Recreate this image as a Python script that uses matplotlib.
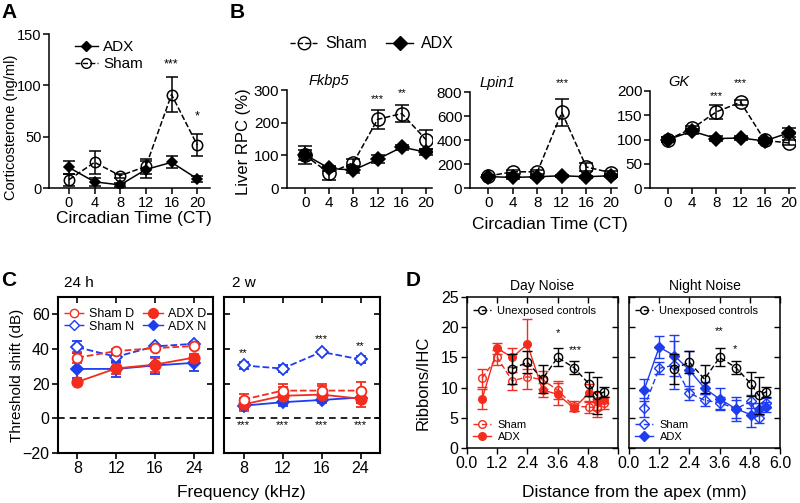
import matplotlib.pyplot as plt
from matplotlib.lines import Line2D

plt.rcParams['font.family'] = ['Liberation Sans', 'DejaVu Sans']

W, H = 800, 503
RED = '#f42c1e'
BLUE = '#1e3cf0'

# ---------------- A: plasma corticosterone ----------------
ct = [0, 4, 8, 12, 16, 20]
cort_adx = [20, 6, 3, 18, 25, 9]
cort_adx_err = [6, 4, 2, 8, 6, 3]
cort_sham = [8, 25, 12, 21, 91, 42]
cort_sham_err = [6, 11, 2, 7, 17, 11]

# ---------------- B: liver genes (RPC %) ----------------
fkbp5_sham = [100, 45, 78, 210, 228, 148]
fkbp5_sham_err = [15, 20, 10, 30, 25, 30]
fkbp5_adx = [102, 60, 55, 88, 125, 110]
fkbp5_adx_err = [28, 8, 8, 12, 8, 10]
lpin1_sham = [100, 135, 135, 630, 175, 128]
lpin1_sham_err = [10, 15, 15, 115, 30, 15]
lpin1_adx = [95, 88, 94, 102, 94, 102]
lpin1_adx_err = [10, 10, 8, 8, 8, 10]
gk_sham = [100, 123, 157, 177, 98, 93]
gk_sham_err = [5, 5, 14, 5, 5, 5]
gk_adx = [100, 117, 102, 103, 97, 114]
gk_adx_err = [5, 5, 5, 5, 5, 9]

# ---------------- C: threshold shift ----------------
freq_labels = ['8', '12', '16', '24']
c24_sham_d = [35, 38.8, 40.5, 41.7]
c24_sham_d_err = [3, 1.2, 1.2, 1.2]
c24_sham_n = [41, 35.5, 41.5, 43]
c24_sham_n_err = [3.5, 3, 1, 1]
c24_adx_d = [21, 28.8, 31, 35]
c24_adx_d_err = [1, 3, 4, 2]
c24_adx_n = [28.5, 28.5, 30.5, 32]
c24_adx_n_err = [5.5, 4.5, 5, 4.5]
c2w_sham_d = [10.8, 16, 16, 16]
c2w_sham_d_err = [3, 4, 4, 5]
c2w_sham_n = [30.5, 28.7, 38.3, 34]
c2w_sham_n_err = [2, 2, 1, 2]
c2w_adx_d = [8, 13, 13.7, 11.3]
c2w_adx_d_err = [4, 5, 5, 5]
c2w_adx_n = [7.3, 9.3, 10.6, 12]
c2w_adx_n_err = [2, 2, 2, 3]

# ---------------- D: ribbons per IHC ----------------
dist = [0.6, 1.2, 1.8, 2.4, 3.0, 3.6, 4.25, 4.85, 5.15, 5.45]
ctrl_dist = [1.8, 2.4, 3.0, 3.6, 4.25, 4.85, 5.15, 5.45]
ctrl = [13.1, 14.2, 11.4, 15.0, 13.3, 10.6, 8.7, 9.3]
ctrl_err = [2.5, 1.8, 2.3, 1.5, 1.1, 2.0, 3.0, 0.8]
day_sham = [11.6, 15.0, 11.1, 11.8, 11.3, 9.6, 6.9, 6.8, 6.6, 7.5]
day_sham_err = [1.5, 1.2, 1.5, 2.0, 1.5, 1.5, 0.8, 1.0, 1.5, 1.0]
day_adx = [8.1, 16.5, 15.0, 17.2, 9.6, 8.9, 6.6, 9.1, 7.8, 7.9]
day_adx_err = [1.6, 0.9, 1.6, 4.2, 1.2, 1.8, 0.5, 1.5, 1.5, 0.5]
night_sham = [6.7, 13.2, 13.7, 9.1, 7.9, 7.5, 6.5, 7.7, 4.9, 7.5]
night_sham_err = [1.6, 1.0, 4.0, 1.2, 1.0, 1.0, 1.5, 1.0, 0.8, 0.8]
night_adx = [9.6, 16.7, 15.3, 12.9, 9.9, 8.1, 6.5, 5.5, 6.4, 6.8]
night_adx_err = [1.8, 1.8, 3.4, 3.2, 1.0, 1.8, 2.0, 2.0, 1.0, 0.8]


def px_box(l, t, r, b):
    # pixel box (left, top, right, bottom) -> figure fraction rect
    return [l / W, 1 - b / H, (r - l) / W, (b - t) / H]


def ftext(x, y, s, **kw):
    fig.text(x / W, 1 - y / H, s, **kw)


def eb(ax, x, y, e, color, marker, ms, ls, mfc, cap, lw=1.0, z=2):
    ax.errorbar(x, y, yerr=e, color=color, marker=marker, ms=ms, ls=ls,
                mfc=mfc, mec=color, mew=lw, capsize=cap, elinewidth=lw,
                capthick=lw, lw=lw, zorder=z)


def prism(ax, labelsize=9.5):
    ax.spines[['top', 'right']].set_visible(False)
    for s in ax.spines.values():
        s.set_linewidth(1.1)
    ax.tick_params(direction='out', length=4, width=1.1, labelsize=labelsize, pad=1.5)


def proxy(color, marker, ls, mfc, ms, lw=1.0):
    return Line2D([], [], color=color, marker=marker, ls=ls, mfc=mfc,
                  mec=color, ms=ms, lw=lw)


def inward_second_ticks(ax):
    # top ticks point down, right ticks point left (into the box)
    for tk in ax.xaxis.get_major_ticks():
        tk.tick2line.set_marker(3)
    for tk in ax.yaxis.get_major_ticks():
        tk.tick2line.set_marker(0)


fig = plt.figure(figsize=(8, 5.03), dpi=100)

# ================= A =================
axA = fig.add_axes(px_box(49, 34, 210, 188))
eb(axA, ct, cort_sham, cort_sham_err, 'k', 'o', 7.5, '--', 'none', 4.5, 1.1)
eb(axA, ct, cort_adx, cort_adx_err, 'k', 'D', 5.5, '-', 'k', 4.5, 1.1, z=3)
axA.set_xlim(-3.1, 22)
axA.set_ylim(0, 150)
axA.set_xticks(ct)
axA.set_yticks([0, 50, 100, 150])
prism(axA, 10.5)
axA.text(16, 120, '***', ha='center', va='center', fontsize=9)
axA.text(20, 70, '*', ha='center', va='center', fontsize=9)
axA.legend([proxy('k', 'D', '-', 'k', 5.5), proxy('k', 'o', '--', 'none', 7)],
           ['ADX', 'Sham'], loc='upper left', bbox_to_anchor=(0.16, 0.96),
           frameon=False, fontsize=11, handlelength=1.5, handletextpad=0.35,
           labelspacing=0.2, borderpad=0, borderaxespad=0)
ftext(11, 127, 'Corticosterone (ng/ml)', rotation=90, ha='center', va='center', fontsize=10.5)
ftext(134, 219, 'Circadian Time (CT)', ha='center', va='center', fontsize=12.5)
ftext(9, 12, 'A', ha='center', va='center', fontsize=15, fontweight='bold')

# ================= B =================
b_boxes = [(287, 90, 432), (470, 92, 617), (650, 91, 795)]
b_sham = [fkbp5_sham, lpin1_sham, gk_sham]
b_sham_err = [fkbp5_sham_err, lpin1_sham_err, gk_sham_err]
b_adx = [fkbp5_adx, lpin1_adx, gk_adx]
b_adx_err = [fkbp5_adx_err, lpin1_adx_err, gk_adx_err]
b_titles = ['Fkbp5', 'Lpin1', 'GK']
b_title_x = [0.5, -1.5, 0]
b_ylim = [300, 800, 200]
b_yticks = [[0, 100, 200, 300], [0, 200, 400, 600, 800], [0, 50, 100, 150, 200]]
b_stars = [[(12, 272, '***'), (16, 291, '**')],
           [(12, 875, '***')],
           [(8, 190, '***'), (12, 217, '***')]]
for i in range(3):
    l, t, r = b_boxes[i]
    ax = fig.add_axes(px_box(l, t, r, 188))
    eb(ax, ct, b_sham[i], b_sham_err[i], 'k', 'o', 9.5, '--', 'none', 5, 1.1)
    eb(ax, ct, b_adx[i], b_adx_err[i], 'k', 'D', 7, '-', 'k', 5, 1.1, z=3)
    ax.set_xlim(-3, 21)
    ax.set_ylim(0, b_ylim[i])
    ax.set_xticks(ct)
    ax.set_yticks(b_yticks[i])
    prism(ax, 11)
    ax.text(b_title_x[i], b_ylim[i] * 1.09, b_titles[i], ha='left', va='center',
            fontsize=10.5, style='italic')
    for sx, sy, s in b_stars[i]:
        ax.text(sx, sy, s, ha='center', va='center', fontsize=8)
fig.legend([proxy('k', 'o', '--', 'none', 9), proxy('k', 'D', '-', 'k', 7)],
           ['Sham', 'ADX'], loc='center left', bbox_to_anchor=(290 / W, 1 - 44 / H),
           ncol=2, frameon=False, fontsize=11.5, handlelength=1.7, handletextpad=0.5,
           columnspacing=1.2, borderpad=0, borderaxespad=0)
ftext(243, 142, 'Liver RPC (%)', rotation=90, ha='center', va='center', fontsize=12)
ftext(550, 224, 'Circadian Time (CT)', ha='center', va='center', fontsize=12.5)
ftext(237, 12, 'B', ha='center', va='center', fontsize=15, fontweight='bold')

# ================= C =================
fx = range(len(freq_labels))
c_sets = [
    (c24_sham_d, c24_sham_d_err, c24_sham_n, c24_sham_n_err,
     c24_adx_d, c24_adx_d_err, c24_adx_n, c24_adx_n_err),
    (c2w_sham_d, c2w_sham_d_err, c2w_sham_n, c2w_sham_n_err,
     c2w_adx_d, c2w_adx_d_err, c2w_adx_n, c2w_adx_n_err),
]
c_boxes = [(58, 213), (224, 380)]
c_titles = ['24 h', '2 w']
for i in range(2):
    l, r = c_boxes[i]
    ax = fig.add_axes(px_box(l, 297, r, 453))
    sd, sde, sn, sne, ad, ade, an, ane = c_sets[i]
    ax.axhline(0, color='k', ls=(0, (4, 3)), lw=1.2, zorder=1)
    eb(ax, fx, an, ane, BLUE, 'D', 6, '-', BLUE, 3.5, 1.3)
    eb(ax, fx, ad, ade, RED, 'o', 7.5, '-', RED, 3.5, 1.3)
    eb(ax, fx, sn, sne, BLUE, 'D', 6, '--', 'white', 3.5, 1.3, z=3)
    eb(ax, fx, sd, sde, RED, 'o', 7, '--', 'white', 3.5, 1.3, z=3)
    ax.set_xlim(-0.5, 3.5)
    ax.set_ylim(-20, 70)
    ax.set_xticks(list(fx))
    ax.set_xticklabels(freq_labels)
    ax.set_yticks([-20, 0, 20, 40, 60])
    for s in ax.spines.values():
        s.set_linewidth(1.5)
    ax.tick_params(labelsize=11.5, width=1.2, length=4, pad=2, top=True, right=True)
    ax.tick_params(axis='x', direction='out')
    ax.tick_params(axis='y', direction='in' if i else 'out', labelleft=(i == 0))
    inward_second_ticks(ax)
    ax.text(0.04 if i == 0 else 0.05, 1.09, c_titles[i], transform=ax.transAxes,
            ha='left', va='center', fontsize=11)
    if i == 0:
        ax.legend([proxy(RED, 'o', '--', 'white', 6), proxy(BLUE, 'D', '--', 'white', 5.5),
                   proxy(RED, 'o', '-', RED, 7), proxy(BLUE, 'D', '-', BLUE, 5.5)],
                  ['Sham D', 'Sham N', 'ADX D', 'ADX N'], ncol=2, loc='upper left',
                  bbox_to_anchor=(0.04, 0.93), frameon=False, fontsize=9,
                  handlelength=1.6, handletextpad=0.4, labelspacing=0.05,
                  columnspacing=0.7, borderpad=0, borderaxespad=0)
    else:
        for k, s in zip([0, 2, 3], ['**', '***', '**']):
            ax.text(k, sn[k] + 7.5 if k else 37.5, s, ha='center', va='center', fontsize=8)
        for k in fx:
            ax.text(k, -4, '***', ha='center', va='center', fontsize=8)
ftext(17, 375, 'Threshold shift (dB)', rotation=90, ha='center', va='center', fontsize=11)
ftext(241, 492, 'Frequency (kHz)', ha='center', va='center', fontsize=12.5)
ftext(9, 280, 'C', ha='center', va='center', fontsize=15, fontweight='bold')

# ================= D =================
d_boxes = [(467, 618), (629, 780)]
d_titles = ['Day Noise', 'Night Noise']
d_sets = [(day_sham, day_sham_err, day_adx, day_adx_err, RED, 'o'),
          (night_sham, night_sham_err, night_adx, night_adx_err, BLUE, 'D')]
d_stars = [[(3.6, 19.1, '*'), (4.3, 16.2, '***')],
           [(3.6, 19.3, '**'), (4.2, 16.3, '*')]]
for i in range(2):
    l, r = d_boxes[i]
    ax = fig.add_axes(px_box(l, 297, r, 448))
    sh, she, ad, ade, col, mk = d_sets[i]
    ms = 5.5 if mk == 'o' else 5
    eb(ax, ctrl_dist, ctrl, ctrl_err, 'k', 'o', 6, (0, (4, 2)), 'none', 3.5, 1.0, z=4)
    eb(ax, dist, sh, she, col, mk, ms, (0, (4, 2)), 'none', 3.5, 1.0, z=2)
    eb(ax, dist, ad, ade, col, mk, ms, '-', col, 3.5, 1.0, z=3)
    ax.set_xlim(0, 6)
    ax.set_ylim(0, 25)
    ticks = [0, 1.2, 2.4, 3.6, 4.8, 6.0]
    ax.set_xticks(ticks)
    labs = ['%.1f' % v for v in ticks]
    if i == 0:
        labs[-1] = ''
    ax.set_xticklabels(labs)
    ax.set_yticks([0, 5, 10, 15, 20, 25])
    for s in ax.spines.values():
        s.set_linewidth(1.1)
    ax.tick_params(labelsize=11.5, width=1.0, length=4, pad=2, top=True, right=True)
    ax.tick_params(axis='y', direction='out' if i == 0 else 'in', labelleft=(i == 0))
    inward_second_ticks(ax)
    ax.set_title(d_titles[i], fontsize=10, pad=5)
    for sx, sy, s in d_stars[i]:
        ax.text(sx, sy, s, ha='center', va='center', fontsize=8)
    leg1 = ax.legend([proxy('k', 'o', (0, (4, 2)), 'none', 5.5)], ['Unexposed controls'],
                     loc='upper left', bbox_to_anchor=(0.04, 0.94), frameon=False,
                     fontsize=8, handlelength=1.6, handletextpad=0.6,
                     borderpad=0, borderaxespad=0)
    ax.add_artist(leg1)
    ax.legend([proxy(col, mk, (0, (4, 2)), 'none', ms), proxy(col, mk, '-', col, ms)],
              ['Sham', 'ADX'], loc='lower left', bbox_to_anchor=(0.04, 0.04),
              frameon=False, fontsize=8, handlelength=1.6, handletextpad=0.6,
              labelspacing=0.15, borderpad=0, borderaxespad=0)
ftext(423, 383, 'Ribbons/IHC', rotation=90, ha='center', va='center', fontsize=12)
ftext(634, 493, 'Distance from the apex (mm)', ha='center', va='center', fontsize=12.5)
ftext(413, 280, 'D', ha='center', va='center', fontsize=15, fontweight='bold')

fig.savefig('out.png', dpi=100)
